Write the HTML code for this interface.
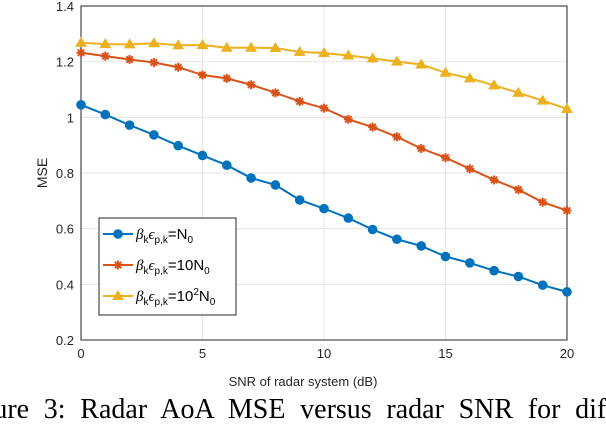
<!DOCTYPE html>
<html><head><meta charset="utf-8"><style>
body{margin:0;width:606px;height:420px;overflow:hidden;background:#fff;font-family:"Liberation Sans",sans-serif}
</style></head><body>
<svg width="606" height="420">
<g id="grid"></g><g id="axes"></g><g id="series"></g><g id="legend"></g>
<text x="303" y="386" font-size="13" text-anchor="middle" fill="#262626">SNR of radar system (dB)</text>
<text transform="translate(47,173) rotate(-90)" font-size="14" text-anchor="middle" fill="#262626">MSE</text>
<text x="-44" y="418" font-size="28" word-spacing="7.7" font-family="Liberation Serif,serif" fill="#000">Figure 3: Radar AoA MSE versus radar SNR for different</text>
</svg>
<script>
const xs=[0,1,2,3,4,5,6,7,8,9,10,11,12,13,14,15,16,17,18,19,20];
const blue=[1.045,1.01,0.972,0.937,0.898,0.863,0.828,0.782,0.757,0.703,0.672,0.638,0.597,0.562,0.538,0.5,0.477,0.449,0.428,0.397,0.373];
const orange=[1.232,1.22,1.208,1.197,1.18,1.152,1.14,1.117,1.088,1.057,1.033,0.993,0.965,0.93,0.888,0.855,0.815,0.775,0.74,0.695,0.665];
const yellow=[1.268,1.263,1.262,1.266,1.259,1.26,1.25,1.25,1.249,1.235,1.231,1.222,1.212,1.2,1.19,1.16,1.14,1.115,1.088,1.06,1.03];
const xTicks=[0,5,10,15,20];
const yTicks=[0.2,0.4,0.6,0.8,1,1.2,1.4];
const L=81,R=567,T=6,B=340;
const X=v=>L+(v-0)/20*(R-L), Y=v=>B-(v-0.2)/1.2*(B-T);
const NS="http://www.w3.org/2000/svg";
function mk(p,t,a){const e=document.createElementNS(NS,t);for(const k in a)e.setAttribute(k,a[k]);p.appendChild(e);return e;}
const g=document.getElementById('grid'),ax=document.getElementById('axes'),s=document.getElementById('series'),lg=document.getElementById('legend');
xTicks.forEach(t=>{const l=mk(g,'line',{x1:X(t),x2:X(t),y1:T,y2:B,stroke:'#e6e6e6'});


const tx=mk(ax,'text',{x:X(t),y:B+18,'font-size':13,'text-anchor':'middle',fill:'#262626'});tx.textContent=t;

});
yTicks.forEach(t=>{const l=mk(g,'line',{x1:L,x2:R,y1:Y(t),y2:Y(t),stroke:'#e6e6e6'});


const tx=mk(ax,'text',{x:L-7,y:Y(t)+5,'font-size':13,'text-anchor':'end',fill:'#262626'});tx.textContent=String(t);

});
const box=mk(ax,'rect',{x:L,y:T,width:R-L,height:B-T,fill:'none',stroke:'#262626','stroke-width':1});


function marker(p,kind,x,y,c){
 if(kind==='o')return mk(p,'circle',{cx:x,cy:y,r:4.8,fill:c});
 if(kind==='^')return mk(p,'polygon',{points:`${x},${y-6} ${x-6},${y+4} ${x+6},${y+4}`,fill:c});
 const gg=mk(p,'g',{stroke:c,'stroke-width':2});
 [[0,4.5],[4.5,0],[3.2,3.2],[3.2,-3.2]].forEach(([a,b])=>mk(gg,'line',{x1:x-a,y1:y-b,x2:x+a,y2:y+b}));return gg;}
const defs=[[blue,'#0072bd','o','series-n0'],[orange,'#d95319','*','series-10n0'],[yellow,'#edb120','^','series-100n0']];
defs.forEach(([d,c,k,n])=>{
 const p=mk(s,'polyline',{points:xs.map((x,i)=>X(x)+','+Y(d[i])).join(' '),fill:'none',stroke:c,'stroke-width':2});
 
 
 xs.forEach((x,i)=>{const m=marker(s,k,X(x),Y(d[i]),c);
 
 });
});
const lb=mk(lg,'rect',{x:99,y:218,width:137,height:97,fill:'#fff',stroke:'#262626'});


const labels=['N<tspan dy="4" font-size="10">0</tspan>','10N<tspan dy="4" font-size="10">0</tspan>','10<tspan dy="-6" font-size="10">2</tspan><tspan dy="6">N</tspan><tspan dy="4" font-size="10">0</tspan>'];
defs.forEach(([d,c,k,n],i)=>{const y=234+i*31;
 mk(lg,'line',{x1:103,x2:133,y1:y,y2:y,stroke:c,'stroke-width':2});marker(lg,k,118,y,c);
 const t=mk(lg,'text',{x:136,y:y+5,'font-size':15,fill:'#000'});
 t.innerHTML='<tspan font-family="Liberation Serif,serif" font-style="italic">β</tspan><tspan dy="4" font-size="10">k</tspan><tspan dy="-4" font-family="Liberation Serif,serif" font-style="italic">ϵ</tspan><tspan dy="4" font-size="10">p,k</tspan><tspan dy="-4">=</tspan>'+labels[i];
 
 
});
</script>
</body></html>
